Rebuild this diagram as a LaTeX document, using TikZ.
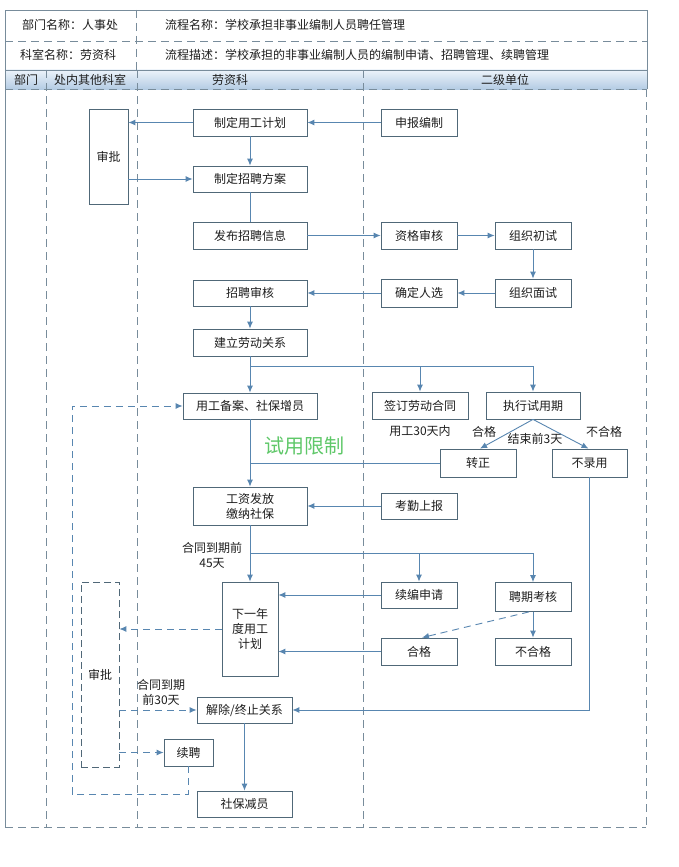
\documentclass[tikz,border=0pt]{standalone}
\usepackage{fontspec}
\setmainfont{Noto Sans CJK SC}
\usetikzlibrary{arrows.meta,calc}
\definecolor{ln}{RGB}{88,134,176}
\definecolor{bx}{RGB}{80,104,120}
\definecolor{fr}{RGB}{120,140,155}
\definecolor{grn}{RGB}{95,200,105}
\definecolor{txt}{RGB}{30,30,30}
\definecolor{hdtop}{RGB}{236,243,250}
\definecolor{hdbot}{RGB}{180,204,228}
\begin{document}
\begin{tikzpicture}[x=1pt,y=-1pt,
  font=\fontsize{12}{15}\selectfont, text=txt,
  box/.style={draw=bx, line width=0.8pt, fill=white, inner sep=0pt, align=center},
  dbox/.style={box, dashed, dash pattern=on 7pt off 4pt},
  conn/.style={draw=ln, line width=0.9pt},
  arr/.style={conn, -{Latex[length=7pt,width=6pt]}},
  darr/.style={arr, dash pattern=on 7pt off 5pt},
  frm/.style={draw=fr, line width=0.8pt},
  dfrm/.style={frm, dash pattern=on 8pt off 5pt},
  lbl/.style={inner sep=0pt, align=center}
]
\useasboundingbox[fill=white] (0,0) rectangle (678,867);

% ---------- frame ----------
\shade[top color=hdtop, bottom color=hdbot] (5,70) rectangle (647,89);
\draw[frm] (5,827) -- (5,10) -- (647,10) -- (647,89);
\draw[dfrm] (5,41) -- (647,41);
\draw[frm] (5,70) -- (647,70);
\draw[dfrm] (5,89) -- (647,89);
\draw[dfrm] (136,10) -- (136,70);
\draw[dfrm] (46,70) -- (46,827);
\draw[dfrm] (137,70) -- (137,827);
\draw[dfrm] (363,70) -- (363,827);
\draw[dfrm] (646,89) -- (646,827);
\draw[dfrm] (5,827) -- (646,827);

% ---------- header texts ----------
\node[lbl] (h1) at (70,25) {部门名称：人事处};
\node[lbl] (h2) at (68,55) {科室名称：劳资科};
\node[lbl, anchor=west] (h3) at (165,25) {流程名称：学校承担非事业编制人员聘任管理};
\node[lbl, anchor=west] (h4) at (165,55) {流程描述：学校承担的非事业编制人员的编制申请、招聘管理、续聘管理};
\node[lbl] (l1) at (26,80) {部门};
\node[lbl] (l2) at (90,80) {处内其他科室};
\node[lbl] (l3) at (230,80) {劳资科};
\node[lbl] (l4) at (505,80) {二级单位};

% ---------- boxes ----------
\node[box, minimum width=39pt, minimum height=95pt] (shenpi1) at (108.5,156.5) {审批};
\node[box, minimum width=114pt, minimum height=27pt] (jihua) at (250,122.5) {制定用工计划};
\node[box, minimum width=114pt, minimum height=26pt] (fangan) at (250,179) {制定招聘方案};
\node[box, minimum width=114pt, minimum height=27pt] (fabu) at (250,235.5) {发布招聘信息};
\node[box, minimum width=76pt, minimum height=27pt] (shenbao) at (419,122.5) {申报编制};
\node[box, minimum width=76pt, minimum height=27pt] (zige) at (419,235.5) {资格审核};
\node[box, minimum width=76pt, minimum height=27pt] (chushi) at (533,235.5) {组织初试};
\node[box, minimum width=76pt, minimum height=28pt] (mianshi) at (533,293) {组织面试};
\node[box, minimum width=76pt, minimum height=28pt] (queding) at (419,293) {确定人选};
\node[box, minimum width=114pt, minimum height=26pt] (zpshenhe) at (250,293) {招聘审核};
\node[box, minimum width=114pt, minimum height=27pt] (jianli) at (250,342.5) {建立劳动关系};
\node[box, minimum width=134pt, minimum height=26pt] (beian) at (250,406) {用工备案、社保增员};
\node[box, minimum width=96pt, minimum height=27pt] (qianding) at (420,405.5) {签订劳动合同};
\node[box, minimum width=94pt, minimum height=27pt] (zhixing) at (533,405.5) {执行试用期};
\node[box, minimum width=76pt, minimum height=28pt] (zhuanzheng) at (478,463) {转正};
\node[box, minimum width=75pt, minimum height=28pt] (buluyong) at (589.5,463) {不录用};
\node[box, minimum width=114pt, minimum height=38pt] (gongzi) at (250,506) {工资发放\\缴纳社保};
\node[box, minimum width=76pt, minimum height=26pt] (kaoqin) at (419,506) {考勤上报};
\node[box, minimum width=56pt, minimum height=94pt] (xianian) at (250,629) {下一年\\度用工\\计划};
\node[box, minimum width=76pt, minimum height=26pt] (xubian) at (419,595) {续编申请};
\node[box, minimum width=76pt, minimum height=29pt] (pinqi) at (533,597) {聘期考核};
\node[box, minimum width=76pt, minimum height=27pt] (hege) at (419,651.5) {合格};
\node[box, minimum width=76pt, minimum height=27pt] (buhege) at (533,651.5) {不合格};
\node[box, minimum width=95pt, minimum height=26pt] (jiechu) at (244.5,710) {解除/终止关系};
\node[box, minimum width=49pt, minimum height=27pt] (xupin) at (188.5,752.5) {续聘};
\node[box, minimum width=95pt, minimum height=26pt] (shebao) at (244.5,804) {社保减员};
\node[dbox, minimum width=38pt, minimum height=185pt] (shenpi2) at (100,674.5) {审批};

% ---------- labels ----------
\node[lbl, text=grn, font=\fontsize{20}{22}\selectfont] (shiyong) at (304,446) {试用限制};
\node[lbl] (t30) at (420,431) {用工30天内};
\node[lbl] (thg) at (484,432) {合格};
\node[lbl] (tjs) at (535,439) {结束前3天};
\node[lbl] (tbhg) at (604,432) {不合格};
\node[lbl] (t45) at (212,555) {合同到期前\\45天};
\node[lbl] (t30b) at (161,692) {合同到期\\前30天};

% ---------- connectors ----------
\draw[arr] (shenbao.west) -- (jihua.east);
\draw[arr] (jihua.west) -- (jihua.west -| shenpi1.east);
\draw[arr] (shenpi1.east |- fangan.west) -- (fangan.west);
\draw[arr] (jihua.south) -- (fangan.north);
\draw[conn] (fangan.south) -- (fabu.north);
\draw[arr] (fabu.east) -- (zige.west);
\draw[arr] (zige.east) -- (chushi.west);
\draw[arr] (chushi.south) -- (mianshi.north);
\draw[arr] (mianshi.west) -- (queding.east);
\draw[arr] (queding.west) -- (zpshenhe.east);
\draw[arr] (zpshenhe.south) -- (jianli.north);
\draw[arr] (jianli.south) -- (beian.north);
\coordinate (j1) at (250,366);
\draw[arr] (j1) -| (zhixing.north);
\draw[arr] (j1 -| qianding.north) -- (qianding.north);
\draw[arr] (beian.south) -- (gongzi.north);
\draw[conn] (zhuanzheng.west) -- (zhuanzheng.west -| beian.south);
\draw[arr] (zhixing.south) -- ($(zhuanzheng.north)+(2,0)$);
\draw[arr] (zhixing.south) -- ($(buluyong.north)+(-1,0)$);
\draw[arr] (buluyong.south) |- (jiechu.east);
\draw[arr] (kaoqin.west) -- (gongzi.east);
\coordinate (j2) at (250,553);
\draw[arr] (gongzi.south) -- (xianian.north);
\draw[arr] (j2) -| (pinqi.north);
\draw[arr] (j2 -| xubian.north) -- (xubian.north);
\draw[arr] (xubian.west) -- (xubian.west -| xianian.east);
\draw[arr] (hege.west) -- (hege.west -| xianian.east);
\draw[arr] (pinqi.south) -- (buhege.north);
\draw[darr] ($(pinqi.south)+(-4,0)$) -- ($(hege.north)+(3,0)$);
\draw[darr] (xianian.west) -- (xianian.west -| shenpi2.east);
\draw[darr] (shenpi2.east |- jiechu.west) -- (jiechu.west);
\draw[darr] (shenpi2.east |- xupin.west) -- (xupin.west);
\coordinate (lp) at (72,794);
\draw[darr] (xupin.south) |- (lp) |- (beian.west);
\draw[arr] (jiechu.south) -- (shebao.north);
\end{tikzpicture}
\end{document}
